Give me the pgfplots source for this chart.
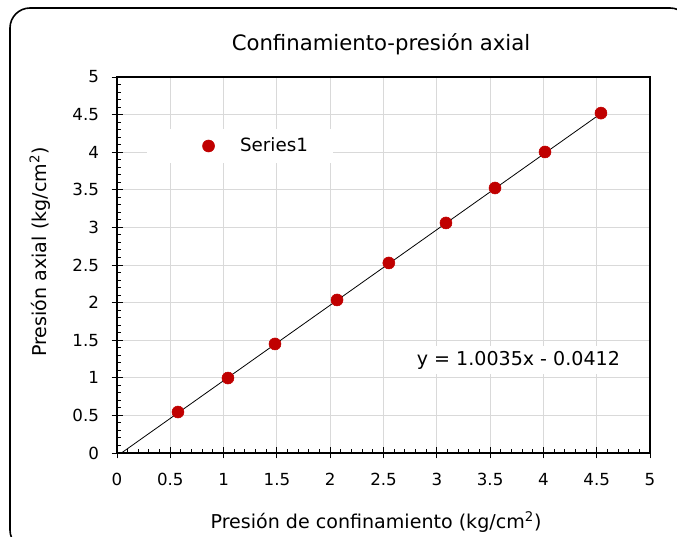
\documentclass[border=0pt]{standalone}
\usepackage{pgfplots}
\pgfplotsset{compat=1.18}
\usepackage{fontspec}
\setmainfont{DejaVu Sans}

\definecolor{ptred}{RGB}{192,0,0}
\definecolor{gridgray}{RGB}{217,217,217}

\begin{document}
\begin{tikzpicture}[x=0.75pt,y=0.75pt]
\useasboundingbox (0,0) rectangle (677,536);
\begin{scope}
  \clip (0,0) rectangle (677,536);
  \draw[line width=1.2pt, rounded corners=15pt] (10,-14) rectangle (690,528);
\end{scope}
\begin{axis}[
  at={(87.75pt,62.25pt)}, anchor=south west,
  scale only axis, width=399.75pt, height=282pt,
  xmin=0, xmax=5, ymin=0, ymax=5,
  xtick={0,0.5,...,5}, ytick={0,0.5,...,5},
  minor x tick num=4, minor y tick num=4,
  tick pos=left, tick align=inside,
  major tick length=4.5pt, minor tick length=3pt,
  tick style={black, line width=0.75pt},
  extra x ticks={0,0.5,...,5}, extra y ticks={0,0.5,...,5},
  extra x tick labels={}, extra y tick labels={},
  extra tick style={tick align=outside, major tick length=4pt, grid=none},
  axis line style={black, line width=1pt},
  grid=major, major grid style={gridgray, line width=0.75pt},
  /pgf/number format/assume math mode=true,
  /pgf/number format/fixed,
  ticklabel style={font=\fontsize{12.5}{15}\selectfont},
  xticklabel style={yshift=-11.5pt},
  yticklabel style={xshift=-10pt},
  every axis title shift=0pt,
  title={Confinamiento-presión axial},
  title style={font=\fontsize{15.9}{19}\selectfont, at={(axis description cs:0.4953,1.0878)}, anchor=center},
  xlabel={Presión de confinamiento (kg/cm\textsuperscript{2})},
  xlabel style={font=\fontsize{14.3}{17}\selectfont, at={(axis description cs:0.486,-0.1835)}, anchor=center},
  ylabel={Presión axial (kg/cm\textsuperscript{2})},
  ylabel style={font=\fontsize{14.3}{17}\selectfont, at={(axis description cs:-0.1445,0.5346)}, anchor=center},
  legend style={draw=none, fill=white, at={(0.0563,0.8165)}, anchor=west,
    font=\fontsize{13.7}{16}\selectfont, inner xsep=17pt, inner ysep=5pt},
  legend image code/.code={\path (0pt,0pt) (50.25pt,0pt); \draw[#1] plot coordinates {(28.75pt,0pt)};},
  clip=true,
]
\addplot[only marks, mark=*, mark size=4.5pt, mark options={draw=ptred, fill=ptred}]
  coordinates {(0.572,0.545) (1.041,0.997) (1.482,1.450) (2.064,2.035) (2.550,2.527)
               (3.086,3.059) (3.546,3.524) (4.015,4.003) (4.540,4.520)};
\addlegendentry{Series1}
\addplot[black, line width=0.6pt, forget plot] coordinates {(0.041,0) (4.540,4.515)};
\node[fill=white, inner sep=4pt, anchor=west, font=\fontsize{14.3}{17}\selectfont]
  at (axis cs:2.76,1.237) {y = 1.0035x - 0.0412};
\end{axis}
\end{tikzpicture}
\end{document}
